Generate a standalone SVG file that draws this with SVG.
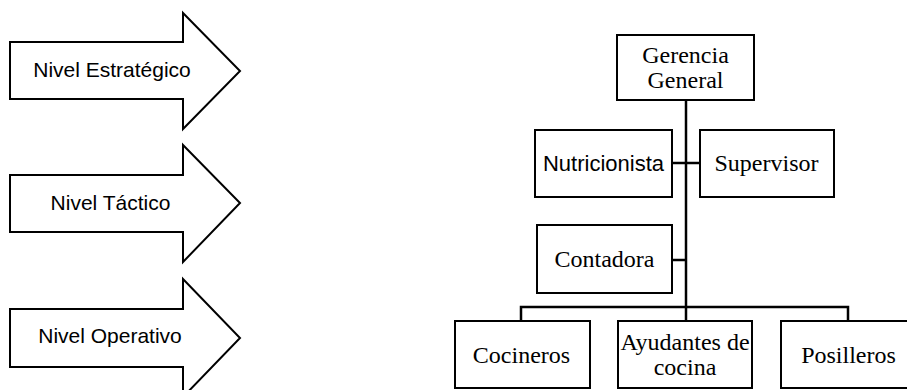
<svg xmlns="http://www.w3.org/2000/svg" width="907" height="390" viewBox="0 0 907 390">
<style>
.arrow{fill:#fff;stroke:#000;stroke-width:2;stroke-linejoin:miter}
.box{fill:#fff;stroke:#000;stroke-width:2}
.conn{fill:none;stroke:#000;stroke-width:2.5}
.sans{font-family:"Liberation Sans",Arial,sans-serif;font-size:21px;fill:#000;text-anchor:middle}
.serif{font-family:"Liberation Serif","Times New Roman",serif;font-size:24px;fill:#000;text-anchor:middle}
</style>
<rect width="907" height="390" fill="#fff"/>
<g id="arrow-estrategico">
<polygon class="arrow" points="10,42 183,42 183,13 240,71 183,129 183,99 10,99"/>
<text class="sans" x="112" y="77">Nivel Estratégico</text>
</g>
<g id="arrow-tactico">
<polygon class="arrow" points="10,175 183,175 183,145 240,203 183,262 183,232 10,232"/>
<text class="sans" x="110.5" y="210">Nivel Táctico</text>
</g>
<g id="arrow-operativo">
<polygon class="arrow" points="10,309 183,309 183,279 240,338 183,397 183,367 10,367"/>
<text class="sans" x="110" y="343">Nivel Operativo</text>
</g>
<g id="connectors">
<line class="conn" x1="686" y1="100" x2="686" y2="321"/>
<line class="conn" x1="672" y1="163" x2="700" y2="163"/>
<line class="conn" x1="672" y1="260" x2="686" y2="260"/>
<polyline class="conn" points="521,321 521,307 848,307 848,321"/>
</g>
<g id="gerencia">
<rect class="box" x="617" y="35" width="137" height="65"/>
<text class="serif" x="685.5" y="63">Gerencia</text>
<text class="serif" x="685.5" y="88">General</text>
</g>
<g id="nutricionista">
<rect class="box" x="535" y="130" width="137" height="67"/>
<text class="sans" x="603.5" y="171" style="font-size:22px">Nutricionista</text>
</g>
<g id="supervisor">
<rect class="box" x="700" y="130" width="134" height="67"/>
<text class="serif" x="766.5" y="171">Supervisor</text>
</g>
<g id="contadora">
<rect class="box" x="537" y="225" width="135" height="68"/>
<text class="serif" x="604.5" y="267">Contadora</text>
</g>
<g id="cocineros">
<rect class="box" x="455" y="321" width="135" height="67"/>
<text class="serif" x="521.5" y="363">Cocineros</text>
</g>
<g id="ayudantes">
<rect class="box" x="618" y="321" width="134" height="67"/>
<text class="serif" x="685" y="350">Ayudantes de</text>
<text class="serif" x="685" y="375">cocina</text>
</g>
<g id="posilleros">
<rect class="box" x="781" y="321" width="134" height="67"/>
<text class="serif" x="848.5" y="363">Posilleros</text>
</g>
</svg>
